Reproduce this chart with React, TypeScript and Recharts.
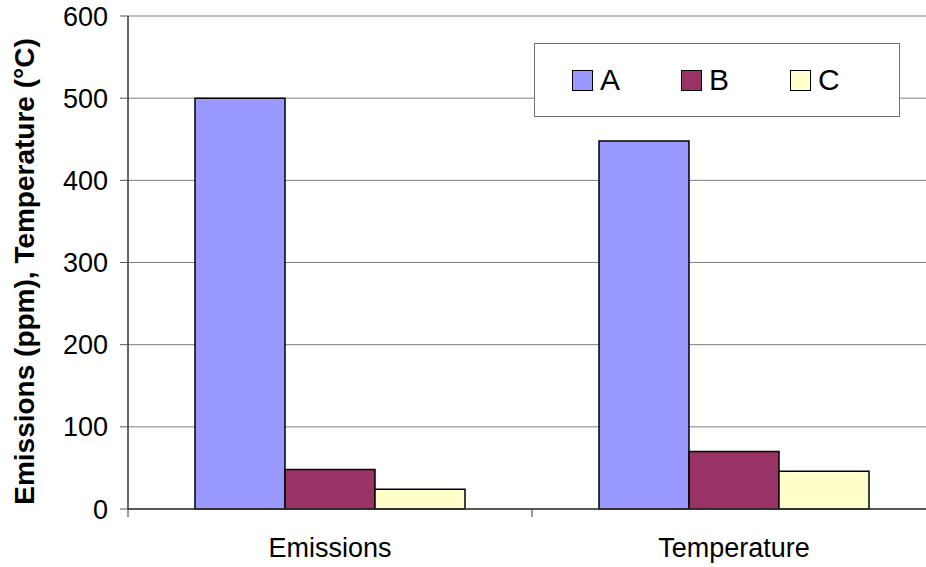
import React from 'react';
import {
  BarChart,
  Bar,
  XAxis,
  YAxis,
  CartesianGrid,
  Legend,
} from 'recharts';

const categories = ['Emissions', 'Temperature'];
const seriesA = [500, 448];
const seriesB = [48, 70];
const seriesC = [24, 46];
const yTicks = [0, 100, 200, 300, 400, 500, 600];

const data = categories.map((name, i) => ({
  name,
  A: seriesA[i],
  B: seriesB[i],
  C: seriesC[i],
}));

const FONT = '"Liberation Sans", Arial, sans-serif';
const TICK_GAP = 29;

const LegendBox = (props: any) => {
  const items = props.payload || [];
  return (
    <div
      style={{
        boxSizing: 'border-box',
        width: 366,
        height: 74,
        border: '1px solid #707070',
        background: '#fff',
        display: 'flex',
        alignItems: 'center',
        paddingLeft: 37,
        fontFamily: FONT,
      }}
    >
      {items.map((it: any) => (
        <div key={it.value} style={{ display: 'flex', alignItems: 'center', width: 122 }}>
          <span
            style={{
              boxSizing: 'border-box',
              width: 21,
              height: 21,
              background: it.color,
              border: '1.5px solid #000',
              marginRight: 7,
            }}
          />
          <span style={{ fontSize: 30, lineHeight: '30px', color: '#000' }}>{it.value}</span>
        </div>
      ))}
    </div>
  );
};

// category label at band centre, tick mark at the band's left boundary
const CatTick = (props: any) => {
  const { x, y, payload, width } = props;
  const band = width / categories.length;
  const bx = x - band / 2;
  const axisY = y - TICK_GAP;
  return (
    <g>
      <line x1={bx} y1={axisY} x2={bx} y2={axisY + 8} stroke="#333" strokeWidth={1} />
      <text
        x={x}
        y={y}
        dy="0.71em"
        textAnchor="middle"
        fontFamily={FONT}
        fontSize={27}
        fill="#000"
      >
        {payload.value}
      </text>
    </g>
  );
};

const YLabel = (props: any) => {
  const vb = props.viewBox;
  const cx = 24;
  const cy = vb.y + vb.height / 2 + 9;
  return (
    <text
      x={cx}
      y={cy}
      transform={`rotate(-90, ${cx}, ${cy})`}
      textAnchor="middle"
      dominantBaseline="central"
      fontFamily={FONT}
      fontWeight="bold"
      fontSize={28}
      fill="#000"
    >
      Emissions (ppm), Temperature (°C)
    </text>
  );
};

const App: React.FC = () => {
  return (
    <div style={{ position: 'absolute', left: 0, top: 0, width: 926, height: 567, overflow: 'hidden', background: '#fff' }}>
      <BarChart
        width={950}
        height={567}
        data={data}
        margin={{ top: 16, right: 14, left: 0, bottom: 0 }}
        barGap={0}
      >
        <CartesianGrid vertical={false} stroke="#808080" strokeWidth={1} />
        <XAxis
          dataKey="name"
          height={58}
          tickSize={0}
          tickMargin={TICK_GAP}
          axisLine={{ stroke: '#333', strokeWidth: 1.5 }}
          tick={<CatTick />}
        />
        <YAxis
          width={128}
          domain={[0, 600]}
          ticks={yTicks}
          tickSize={8}
          tickMargin={12}
          axisLine={{ stroke: '#333', strokeWidth: 1.5 }}
          tickLine={{ stroke: '#555' }}
          tick={{ fontFamily: FONT, fontSize: 27, fill: '#000' }}
          label={<YLabel />}
        />
        <Legend
          layout="horizontal"
          verticalAlign="middle"
          align="center"
          content={<LegendBox />}
          wrapperStyle={{ left: 534, top: 43, width: 366, height: 74 }}
        />
        <Bar dataKey="A" barSize={90} fill="#9999FF" stroke="#000" strokeWidth={1.5} isAnimationActive={false} />
        <Bar dataKey="B" barSize={90} fill="#993366" stroke="#000" strokeWidth={1.5} isAnimationActive={false} />
        <Bar dataKey="C" barSize={90} fill="#FFFFCC" stroke="#000" strokeWidth={1.5} isAnimationActive={false} />
      </BarChart>
    </div>
  );
};

export default App;
